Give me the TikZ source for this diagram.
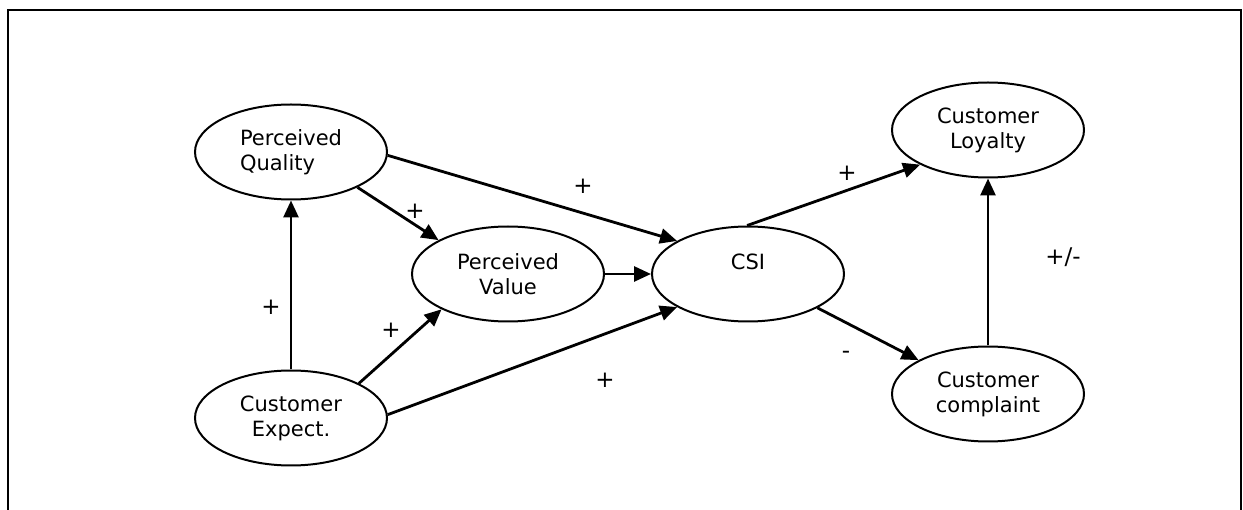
\documentclass[tikz,border=0pt]{standalone}
\usepackage{fontspec}
\setmainfont{DejaVu Sans}
\usetikzlibrary{shapes.geometric,arrows.meta}

\tikzset{
  construct/.style={ellipse, draw, line width=2pt, minimum width=192pt,
    minimum height=95pt, inner sep=0pt, align=center,
    font=\fontsize{21pt}{25pt}\selectfont},
  link/.style={line width=2.8pt, -{Triangle[length=17pt,width=15pt]}},
  sign/.style={font=\fontsize{23pt}{25pt}\selectfont, inner sep=0pt},
  frameline/.style={line width=2.4pt}
}

\begin{document}
\begin{tikzpicture}[x=1pt,y=-1pt]
  \useasboundingbox (0,0) rectangle (1243,510);

  % open frame (no bottom edge)
  \coordinate (f1) at (8,510);
  \coordinate (f2) at (8,10);
  \coordinate (f3) at (1241,10);
  \coordinate (f4) at (1241,510);
  \draw[frameline] (f1) -- (f2) -- (f3) -- (f4);

  % constructs
  \node[construct, align=left] (pq) at (291,152) {Perceived\\Quality};
  \node[construct] (ce) at (291,418) {Customer\\Expect.};
  \node[construct] (pv) at (508,274) {Perceived\\Value};
  \node[construct] (csi) at (748,274) {CSI\\\mbox{}};
  \node[construct] (cl) at (988,130) {Customer\\Loyalty};
  \node[construct] (cc) at (988,394) {Customer\\complaint};

  % paths
  \draw[link] (ce.north) -- (pq.south);
  \draw[link] (pq.-28) -- (pv.154);
  \draw[link] (ce.27) -- (pv.208);
  \draw[link] (pq.-2) -- (csi.155);
  \draw[link] (ce.2) -- (csi.205);
  \draw[link] (pv.east) -- (csi.west);
  \draw[link] (csi.91) -- (cl.207);
  \draw[link] (csi.-26) -- (cc.154);
  \draw[link] (cc.north) -- (cl.south);

  % signs
  \node[sign] (s1) at (271,307) {+};
  \node[sign] (s2) at (415,211) {+};
  \node[sign] (s3) at (391,330) {+};
  \node[sign] (s4) at (583,186) {+};
  \node[sign] (s5) at (605,380) {+};
  \node[sign] (s6) at (847,173) {+};
  \node[sign] (s7) at (846,355) {-};
  \node[sign] (s8) at (1063,257) {+/-};
\end{tikzpicture}
\end{document}
